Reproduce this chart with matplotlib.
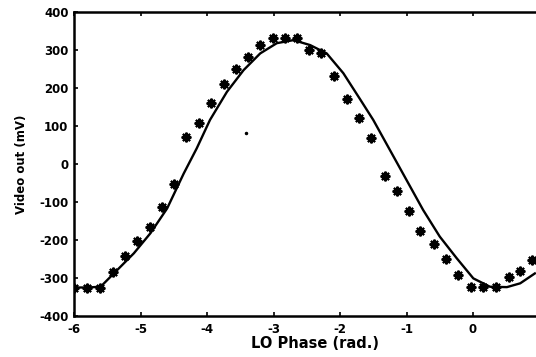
import numpy as np
import matplotlib.pyplot as plt

# measured points (asterisks)
phase_meas = [-6.00, -5.80, -5.61, -5.42, -5.23, -5.06, -4.86, -4.67, -4.50,
              -4.31, -4.12, -3.94, -3.74, -3.57, -3.38, -3.20, -3.01, -2.83,
              -2.65, -2.46, -2.28, -2.09, -1.90, -1.71, -1.53, -1.33, -1.14,
              -0.96, -0.79, -0.58, -0.41, -0.22, -0.03, 0.15, 0.34, 0.54,
              0.71, 0.89]
video_meas = [-325, -325, -325, -284, -243, -203, -165, -113, -52,
              72, 107, 160, 210, 250, 281, 312, 332, 332,
              332, 300, 291, 232, 171, 122, 68, -32, -72,
              -123, -175, -211, -250, -291, -324, -324, -324, -298,
              -282, -252]

# model curve (solid line)
phase_fit = [-6.00, -5.80, -5.60, -5.35, -5.10, -4.85, -4.60, -4.35, -4.155,
             -3.955, -3.70, -3.45, -3.20, -2.95, -2.70, -2.45, -2.20, -1.95,
             -1.70, -1.50, -1.25, -1.00, -0.75, -0.50, -0.245, 0.005, 0.255,
             0.51, 0.71, 0.93]
video_fit = [-325, -325, -323, -279, -235, -182, -117, -25, 41,
             116, 190, 247, 291, 318, 326, 313, 291, 239,
             171, 116, 37, -42, -121, -191, -248, -301, -323,
             -324, -314, -288]

# stray speck in the scan
speck_x = [-3.42]
speck_y = [81]

plt.rcParams['font.family'] = ['DejaVu Sans']
plt.rcParams['font.weight'] = 'bold'
plt.rcParams['axes.unicode_minus'] = False

fig = plt.figure(figsize=(5.36, 3.57), dpi=100)
ax = fig.add_axes([74 / 536, 1 - 316 / 357, (539.5 - 74) / 536, (316 - 12) / 357])

ax.plot(phase_fit, video_fit, color='black', lw=1.7)
ax.plot(phase_meas, video_meas, linestyle='none', marker=(8, 2, 0),
        markersize=7, mew=1.5, color='black')
ax.plot(speck_x, speck_y, linestyle='none', marker='o', markersize=1.5, color='black')

ax.set_xlim(-6, 1)
ax.set_ylim(-400, 400)
ax.set_xticks(np.arange(-6, 1, 1))
ax.set_yticks(np.arange(-400, 401, 100))
ax.tick_params(direction='in', top=True, right=True, length=3, width=1.2,
               labelsize=8.5)
ax.tick_params(axis='x', pad=5)
ax.tick_params(axis='y', pad=4)
for lbl in ax.get_xticklabels() + ax.get_yticklabels():
    lbl.set_fontweight('bold')
for sp in ax.spines.values():
    sp.set_linewidth(1.8)

ax.set_xlabel('LO Phase (rad.)', fontsize=10.5, fontweight='bold', labelpad=0)
ax.xaxis.label.set_x(0.518)
ax.set_ylabel('Video out (mV)', fontsize=8.5, fontweight='bold', labelpad=8)

fig.savefig('out.png', dpi=100, facecolor='white')
